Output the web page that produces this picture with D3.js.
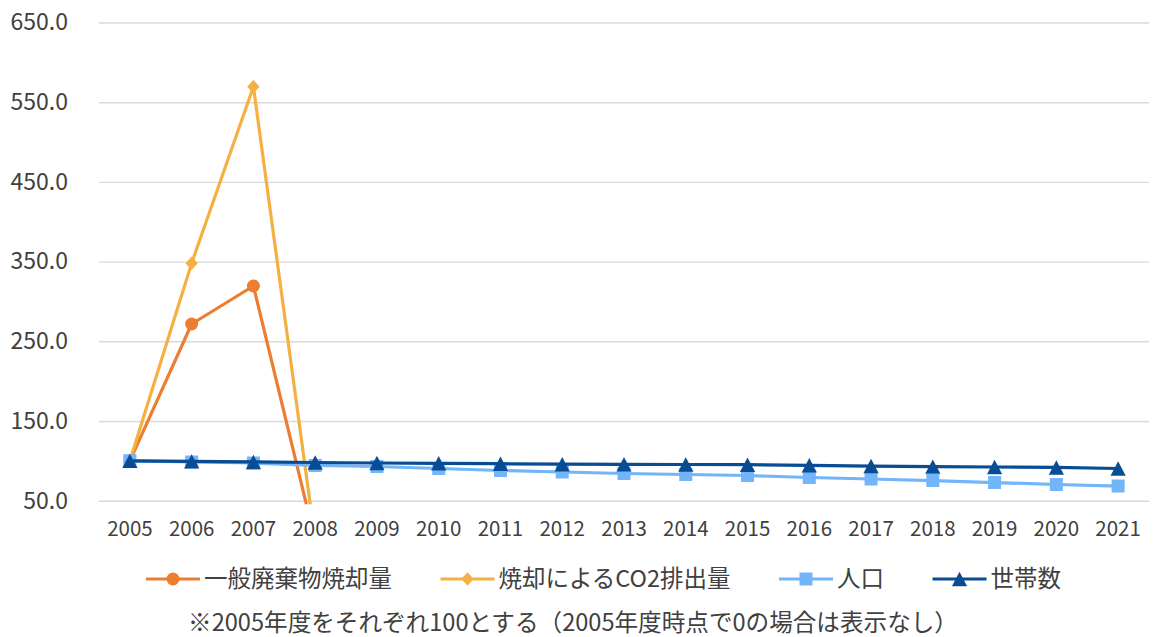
<!DOCTYPE html>
<html>
<head>
<meta charset="utf-8">
<script src="https://cdn.jsdelivr.net/npm/d3@7"></script>
<style>
  html, body { margin: 0; padding: 0; background: #ffffff; }
  svg { display: block; }
  text { font-family: "Noto Sans CJK JP", "Noto Sans", sans-serif; fill: #404040; }
</style>
</head>
<body>
<svg id="chart" width="1153" height="637"></svg>
<script>
// ---- data ----
const years = ["2005","2006","2007","2008","2009","2010","2011","2012","2013","2014","2015","2016","2017","2018","2019","2020","2021"];
const wasteIncineration = [100, 271.7, 319.4, 0, 0, 0, 0, 0, 0, 0, 0, 0, 0, 0, 0, 0, 0];
const co2Emission       = [100, 348.0, 569.5, 0, 0, 0, 0, 0, 0, 0, 0, 0, 0, 0, 0, 0, 0];
const population        = [100, 98.6, 97.3, 94.2, 92.9, 90.4, 87.9, 86.0, 84.1, 82.9, 81.6, 79.1, 77.2, 75.3, 72.8, 70.3, 68.4];
const households        = [100, 99.4, 98.6, 97.9, 97.3, 96.9, 96.4, 95.8, 95.7, 95.4, 95.2, 94.4, 93.5, 92.8, 92.3, 91.7, 90.4];
const yTicks = [50, 150, 250, 350, 450, 550, 650];
const seriesNames = ["一般廃棄物焼却量", "焼却によるCO2排出量", "人口", "世帯数"];
const noteText = "※2005年度をそれぞれ100とする（2005年度時点で0の場合は表示なし）";

// ---- styling / layout ----
const colors = ["#ED7D31", "#F5B042", "#72B5F9", "#084C94"];
const markers = ["circle", "diamond", "square", "triangle"];
const plot = { left: 99, right: 1149, top: 22.5, bottom: 500.7 };

const svg = d3.select("#chart");

const x = d3.scaleBand().domain(years).range([plot.left, plot.right]);
const y = d3.scaleLinear().domain([50, 650]).range([plot.bottom, plot.top]);
const cx = d => x(d) + x.bandwidth() / 2;

// gridlines + y labels
const yAxis = svg.append("g")
  .attr("transform", `translate(${plot.left},0)`)
  .call(d3.axisLeft(y).tickValues(yTicks).tickFormat(d3.format(".1f"))
    .tickSize(-(plot.right - plot.left)).tickPadding(31));
yAxis.select(".domain").remove();
yAxis.selectAll(".tick line").attr("stroke", "#d9d9d9").attr("stroke-width", 1.4);
yAxis.selectAll(".tick text").attr("font-size", 23).attr("fill", "#404040")
  .attr("font-family", '"Noto Sans CJK JP", sans-serif');

// x labels
const xAxis = svg.append("g")
  .attr("transform", `translate(0,${plot.bottom})`)
  .call(d3.axisBottom(x).tickSize(0));
xAxis.select(".domain").remove();
xAxis.selectAll(".tick text").attr("font-size", 20.5).attr("fill", "#404040")
  .attr("font-family", '"Noto Sans CJK JP", sans-serif')
  .attr("y", 28.5).attr("dy", "0.35em");

// clip
svg.append("clipPath").attr("id", "plotclip").append("rect")
  .attr("x", plot.left - 20).attr("y", 0)
  .attr("width", plot.right - plot.left + 40).attr("height", plot.bottom + 3.5);

function markerPath(type) {
  switch (type) {
    case "circle": return d3.symbol(d3.symbolCircle, Math.PI * 6.5 * 6.5)();
    case "diamond": { const h = 6.8, w = 6.2; return `M0,${-h}L${w},0L0,${h}L${-w},0Z`; }
    case "square": { const s = 6.5; return `M${-s},${-s}H${s}V${s}H${-s}Z`; }
    case "triangle": { const w = 7.6, h = 7.2; return `M0,${-h}L${w},${h}L${-w},${h}Z`; }
  }
}

const allSeries = [wasteIncineration, co2Emission, population, households];
const line = d3.line().x((d, i) => cx(years[i])).y(d => y(d));

const plotG = svg.append("g").attr("clip-path", "url(#plotclip)");
allSeries.forEach((vals, si) => {
  const g = plotG.append("g");
  g.append("path").datum(vals)
    .attr("fill", "none").attr("stroke", colors[si]).attr("stroke-width", 3.2)
    .attr("stroke-linejoin", "round").attr("stroke-linecap", "round")
    .attr("d", line);
  g.selectAll("path.m").data(vals).join("path").attr("class", "m")
    .attr("transform", (d, i) => `translate(${cx(years[i])},${y(d)})`)
    .attr("d", markerPath(markers[si]))
    .attr("fill", colors[si]);
});

// legend
const legendY = 579;
const legend = svg.append("g");
const items = [];
seriesNames.forEach((name, i) => {
  const g = legend.append("g");
  g.append("line").attr("x1", 0).attr("x2", 54).attr("y1", 0).attr("y2", 0)
    .attr("stroke", colors[i]).attr("stroke-width", 3.2);
  g.append("path").attr("transform", "translate(27,0)")
    .attr("d", markerPath(markers[i])).attr("fill", colors[i]);
  const t = g.append("text").attr("x", 58).attr("y", 0).attr("dy", "0.35em")
    .attr("font-size", 23.5).text(name);
  items.push({ g, w: 58 + t.node().getComputedTextLength() });
});
const gap = 48.5;
const totalW = d3.sum(items, d => d.w) + gap * (items.length - 1);
let lx = 603.5 - totalW / 2;
items.forEach(it => {
  it.g.attr("transform", `translate(${lx},${legendY})`);
  lx += it.w + gap;
});

// note
svg.append("text").attr("x", 573).attr("y", 623).attr("dy", "0.35em")
  .attr("text-anchor", "middle").attr("font-size", 23.6).text(noteText);
</script>
</body>
</html>
